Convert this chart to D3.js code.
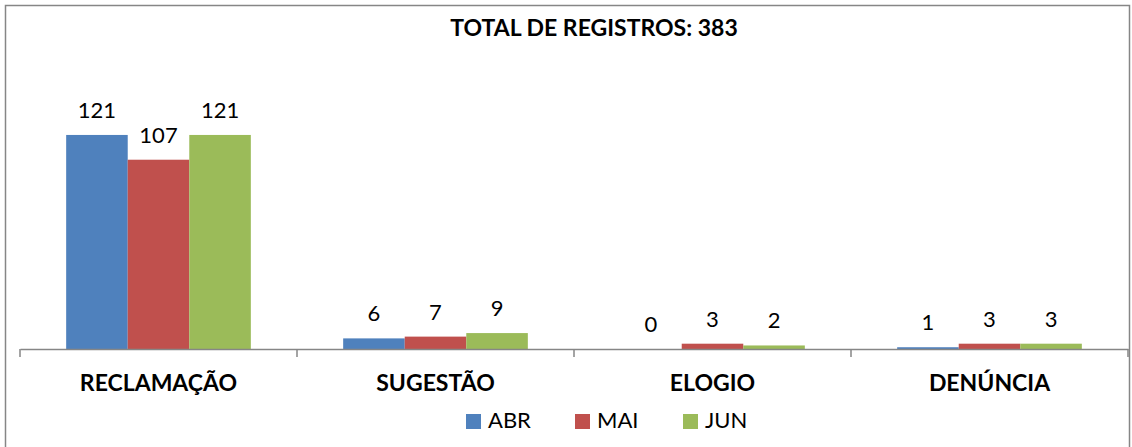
<!DOCTYPE html>
<html><head><meta charset="utf-8">
<script src="https://cdn.jsdelivr.net/npm/d3@7"></script>
<style>body{margin:0;background:#fff}svg{display:block}text{font-family:Lato,"Open Sans",sans-serif}</style>
</head><body>
<svg id="c" width="1132" height="447"></svg>
<script>
const categories = ["RECLAMAÇÃO","SUGESTÃO","ELOGIO","DENÚNCIA"];
const seriesNames = ["ABR","MAI","JUN"];
const abr = [121,6,0,1];
const mai = [107,7,3,3];
const jun = [121,9,2,3];
const colors = ["#4F81BD","#C0504D","#9BBB59"];
const title = "TOTAL DE REGISTROS: 383";

const svg = d3.select("#c");
svg.append("rect").attr("x",5.5).attr("y",5.5).attr("width",1124).attr("height",445)
  .attr("fill","none").attr("stroke","#868686").attr("stroke-width",1.5);

const axisY = 349, left = 20, right = 1128;
const x = d3.scaleBand().domain(categories).range([left,right]).padding(0);
const inner = d3.scaleBand().domain(seriesNames).range([0,x.bandwidth()]).paddingInner(0).paddingOuter(0.75);
const y = d3.scaleLinear().domain([0,140]).range([axisY, axisY-140*1.769]);

const data = [abr,mai,jun];
const g = svg.append("g");
categories.forEach((c,ci)=>{
  seriesNames.forEach((s,si)=>{
    const v = data[si][ci];
    const bx = x(c)+inner(s);
    g.append("rect").attr("x",bx).attr("y",y(v)).attr("width",inner.bandwidth()).attr("height",axisY-y(v))
      .attr("fill",colors[si]);
    g.append("text").attr("x",bx+inner.bandwidth()/2).attr("y",y(v)-17).attr("text-anchor","middle")
      .attr("font-size",22).attr("fill","#000").text(v);
  });
});

const ax = svg.append("g").attr("transform",`translate(0,${axisY})`)
  .call(d3.axisBottom(x).tickSize(0).tickFormat(""));
ax.select(".domain").attr("stroke","#868686").attr("stroke-width",1.5);
const tickPos = categories.map(c=>x(c)).concat([right]);
svg.selectAll(".tk").data(tickPos).enter().append("line")
  .attr("x1",d=>d).attr("x2",d=>d).attr("y1",axisY).attr("y2",axisY+8)
  .attr("stroke","#868686").attr("stroke-width",1.5);
svg.selectAll(".cl").data(categories).enter().append("text")
  .attr("x",d=>x(d)+x.bandwidth()/2).attr("y",391).attr("text-anchor","middle")
  .attr("font-size",23).attr("font-weight","bold").text(d=>d);

svg.append("text").attr("x",594).attr("y",36).attr("text-anchor","middle")
  .attr("font-size",23).attr("font-weight","bold").text(title);

const legX = [466,575,683];
seriesNames.forEach((s,i)=>{
  svg.append("rect").attr("x",legX[i]).attr("y",414).attr("width",15).attr("height",15).attr("fill",colors[i]);
  svg.append("text").attr("x",legX[i]+22).attr("y",428).attr("font-size",22).text(s);
});
</script>
</body></html>
